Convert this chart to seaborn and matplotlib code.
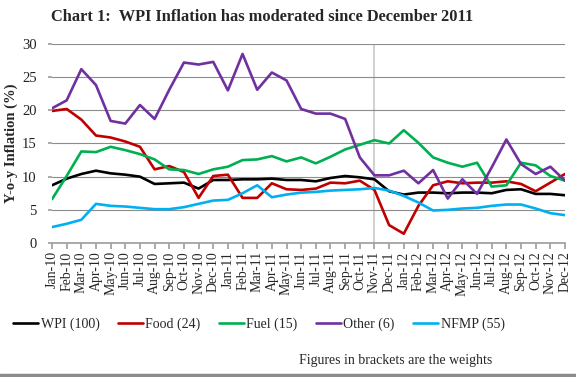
import matplotlib
matplotlib.use("Agg")
import matplotlib.pyplot as plt
import seaborn as sns
import pandas as pd

months = ["Jan-10", "Feb-10", "Mar-10", "Apr-10", "May-10", "Jun-10", "Jul-10", "Aug-10",
          "Sep-10", "Oct-10", "Nov-10", "Dec-10", "Jan-11", "Feb-11", "Mar-11", "Apr-11",
          "May-11", "Jun-11", "Jul-11", "Aug-11", "Sep-11", "Oct-11", "Nov-11", "Dec-11",
          "Jan-12", "Feb-12", "Mar-12", "Apr-12", "May-12", "Jun-12", "Jul-12", "Aug-12",
          "Sep-12", "Oct-12", "Nov-12", "Dec-12"]

wpi = [8.7, 9.7, 10.4, 10.9, 10.5, 10.3, 10.0, 8.9, 9.0, 9.1, 8.2, 9.5,
       9.5, 9.6, 9.6, 9.7, 9.5, 9.5, 9.3, 9.8, 10.1, 9.9, 9.6, 7.8,
       7.3, 7.6, 7.6, 7.5, 7.6, 7.6, 7.5, 8.0, 8.1, 7.4, 7.4, 7.2]
food = [19.9, 20.2, 18.6, 16.2, 15.9, 15.3, 14.5, 11.1, 11.6, 10.7, 6.8, 10.1,
        10.3, 6.8, 6.8, 9.0, 8.1, 8.0, 8.2, 9.1, 9.0, 9.4, 8.0, 2.7,
        1.4, 5.6, 8.7, 9.3, 9.0, 9.1, 9.1, 9.3, 8.9, 7.8, 9.1, 10.4]
fuel = [6.6, 10.1, 13.8, 13.7, 14.5, 14.0, 13.4, 12.6, 11.1, 11.0, 10.4, 11.1,
        11.5, 12.5, 12.6, 13.1, 12.3, 12.9, 12.0, 13.0, 14.1, 14.8, 15.5, 15.0,
        17.0, 15.1, 12.9, 12.1, 11.5, 12.1, 8.5, 8.7, 12.1, 11.7, 10.1, 9.4]
other = [20.3, 21.5, 26.2, 23.8, 18.4, 18.0, 20.8, 18.7, 23.1, 27.2, 26.9, 27.3,
         23.0, 28.5, 23.1, 25.7, 24.5, 20.2, 19.5, 19.5, 18.7, 12.9, 10.2, 10.2,
         10.9, 9.0, 11.0, 6.7, 9.6, 7.4, 11.4, 15.6, 11.9, 10.4, 11.5, 9.4]
nfmp = [2.4, 2.9, 3.5, 5.9, 5.6, 5.5, 5.3, 5.1, 5.1, 5.4, 5.9, 6.4,
        6.5, 7.5, 8.7, 6.9, 7.3, 7.6, 7.7, 7.9, 8.0, 8.1, 8.3, 7.9,
        7.1, 6.1, 4.9, 5.0, 5.2, 5.3, 5.6, 5.8, 5.8, 5.2, 4.5, 4.2]

series_names = ["WPI (100)", "Food (24)", "Fuel (15)", "Other (6)", "NFMP (55)"]
colors = ["#000000", "#C00000", "#00B050", "#7030A0", "#00B0F0"]

df = pd.DataFrame({"Month": months, series_names[0]: wpi, series_names[1]: food,
                   series_names[2]: fuel, series_names[3]: other, series_names[4]: nfmp})
long_df = df.melt(id_vars="Month", var_name="Series", value_name="Inflation")

sns.set_theme(style="white")
plt.rcParams["font.family"] = ["Liberation Serif", "DejaVu Serif"]

fig = plt.figure(figsize=(5.76, 3.77), dpi=100)
ax = fig.add_axes([0.0903, 0.3554, 0.8906, 0.528])

# marker for the Nov-11 turning point
ax.axvline(22, color="#c8c8c8", linewidth=1.2, zorder=0)
sns.lineplot(data=long_df, x="Month", y="Inflation", hue="Series", hue_order=series_names,
             palette=colors, linewidth=1.9, sort=False, ax=ax)

ax.set_xlim(0, 35)
ax.set_ylim(0, 30)
ax.set_yticks(range(0, 31, 5))
ax.yaxis.grid(True, color="#8c8c8c", linewidth=0.8)
ax.set_axisbelow(True)
for side in ["top", "right", "left"]:
    ax.spines[side].set_visible(False)
ax.spines["bottom"].set_color("#a0a0a0")
ax.tick_params(axis="x", bottom=True, length=4, color="#a0a0a0", labelsize=10, rotation=90, pad=2)
ax.tick_params(axis="y", left=True, length=3, color="#a0a0a0", labelsize=10.5,
               labelcolor="#222222", pad=8)

ax.set_xlabel("")
ax.set_ylabel("Y-o-y Inflation (%)", fontsize=10.5, fontweight="bold", labelpad=3)

ax.legend(loc="center", bbox_to_anchor=(0.403, -0.41), ncol=5, frameon=False,
          fontsize=10, handlelength=1.8, handletextpad=0.2, columnspacing=1.3)

fig.text(0.455, 0.955, "Chart 1:  WPI Inflation has moderated since December 2011",
         ha="center", va="center", fontsize=11.8, fontweight="bold")
fig.text(0.855, 0.045, "Figures in brackets are the weights", ha="right", va="center", fontsize=10)
fig.add_artist(plt.Line2D([0, 1], [0.004, 0.004], color="#8c8c8c", linewidth=2.5))

fig.savefig("out.png", dpi=100)
